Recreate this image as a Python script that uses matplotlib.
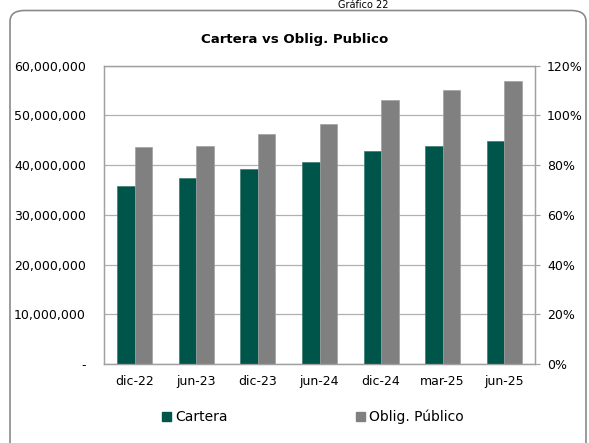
import matplotlib
matplotlib.use("Agg")
import matplotlib.pyplot as plt
import numpy as np
from matplotlib.patches import FancyBboxPatch, Patch
from matplotlib.ticker import FuncFormatter

categories = ["dic-22", "jun-23", "dic-23", "jun-24", "dic-24", "mar-25", "jun-25"]
cartera = [35.9e6, 37.5e6, 39.3e6, 40.7e6, 42.9e6, 43.9e6, 44.8e6]
oblig = [43.7e6, 43.9e6, 46.2e6, 48.2e6, 53.2e6, 55.1e6, 56.9e6]
left_ticks = [0, 10e6, 20e6, 30e6, 40e6, 50e6, 60e6]
right_ticks = [0, 0.2, 0.4, 0.6, 0.8, 1.0, 1.2]

green = "#00554A"
gray = "#808080"

W, H = 589, 443
fig = plt.figure(figsize=(W / 100, H / 100), dpi=100)
plt.rcParams['font.family'] = ['DejaVu Sans']

# outer rounded frame
frame = FancyBboxPatch((10 / W, -20 / H), 576 / W, 452.5 / H,
                       boxstyle="round,pad=0,rounding_size=0.025",
                       transform=fig.transFigure, fill=False,
                       edgecolor="#8a8a8a", linewidth=1.2)
fig.patches.append(frame)

fig.text(363 / W, 1 - 0.5 / H, "Gráfico 22", ha="center", va="top",
         fontsize=7, color="black")

fig.text(0.5, 1 - 39 / H, "Cartera vs Oblig. Publico", ha="center", va="center",
         fontsize=9.6, fontweight="bold")

ax = fig.add_axes([104 / W, 1 - 364 / H, (535 - 104) / W, (364 - 65.7) / H])
x = np.arange(len(categories))
bw = 0.284
ax.bar(x - bw / 2, cartera, bw, color=green, edgecolor="#3a7a70", linewidth=0.5, zorder=3, label="Cartera")
ax.bar(x + bw / 2, oblig, bw, color=gray, edgecolor="#a0a0a0", linewidth=0.5, zorder=3, label="Oblig. Público")

ax.set_xlim(-0.5, len(categories) - 0.5)
ax.set_ylim(0, 60e6)
ax.set_yticks(left_ticks)
ax.yaxis.set_major_formatter(FuncFormatter(lambda v, p: "-" if v == 0 else f"{v:,.0f}"))
ax.set_xticks(x)
ax.set_xticklabels(categories)
ax.tick_params(axis="x", length=0, pad=8, labelsize=9)
ax.tick_params(axis="y", length=0, pad=13, labelsize=9)
ax.grid(axis="y", color="#b0b0b0", linewidth=0.9, zorder=0)
for s in ax.spines.values():
    s.set_color("#a0a0a0")
    s.set_linewidth(0.9)

ax2 = ax.twinx()
ax2.set_ylim(0, 1.2)
ax2.set_yticks(right_ticks)
ax2.yaxis.set_major_formatter(FuncFormatter(lambda v, p: f"{v*100:.0f}%"))
ax2.tick_params(axis="y", length=3.6, color="#a0a0a0", pad=5, labelsize=9)
for s in ax2.spines.values():
    s.set_color("#a0a0a0")
    s.set_linewidth(0.9)

handles = [Patch(facecolor=green, edgecolor=green), Patch(facecolor=gray, edgecolor=gray)]
fig.legend(handles, ["Cartera", "Oblig. Público"], loc="center",
           bbox_to_anchor=(313 / W, 1 - 417 / H), ncol=2, frameon=False,
           fontsize=10, handlelength=0.6, handleheight=0.6, handletextpad=0.3,
           columnspacing=9.3)

fig.savefig("out.png", dpi=100)
